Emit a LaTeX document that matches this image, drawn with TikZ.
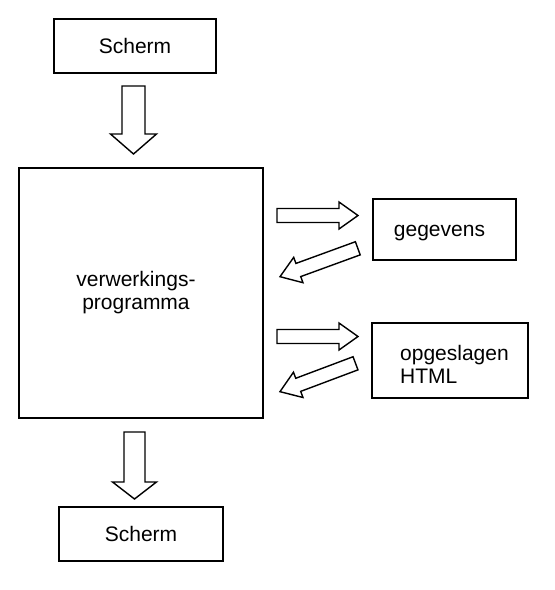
\documentclass[tikz,border=0pt]{standalone}
\usepackage{fontspec}
\setmainfont{Liberation Sans}
\newcommand\blockarr[6]{% tail point, canvas angle, length, half shaft, half head, head length
  \begin{scope}[shift={(#1)}, rotate=#2]
    \draw[arrowline] (0,-#4) -- ({#3-#6},-#4) -- ({#3-#6},-#5) -- (#3,0)
      -- ({#3-#6},#5) -- ({#3-#6},#4) -- (0,#4) -- cycle;
  \end{scope}}
\begin{document}
\begin{tikzpicture}[x=1pt,y=-1pt,
  box/.style={draw, line width=2pt, inner sep=0pt, rectangle},
  txt/.style={inner sep=0pt, font=\fontsize{21}{23}\selectfont},
  arrowline/.style={draw, line width=1.4pt, line join=miter, fill=white}]
\useasboundingbox[fill=white] (0,0) rectangle (555,590);

\node[box, txt, minimum width=162pt, minimum height=54pt] (top) at (135,46) {Scherm};
\node[box, minimum width=244pt, minimum height=250pt] (main) at (141,293) {};
\node[txt, align=center] (maintext) at (136,293) {verwerkings-\\programma};
\node[box, minimum width=143pt, minimum height=61pt] (geg) at (444.5,229.5) {};
\node[txt, anchor=base] (gegtext) at (439.5,236) {gegevens};
\node[box, minimum width=156pt, minimum height=75pt] (opg) at (450,360.5) {};
\node[txt, align=left, anchor=west] (opgtext) at (400,364.4) {opgeslagen\\HTML};
\node[box, txt, minimum width=164pt, minimum height=54pt] (bottom) at (141,534) {Scherm};

% block arrows
\blockarr{133.5,86}{-90}{68}{11.5}{23}{20}
\blockarr{134.5,432}{-90}{67}{10.5}{22}{17}
\blockarr{277,215.5}{0}{81}{7}{13.5}{19}
\blockarr{277,336.5}{0}{81}{7}{13.5}{19}
\blockarr{357.8,248.3}{200.05}{82.8}{7}{13.5}{19.5}
\blockarr{355.5,363.3}{200.6}{80.7}{7}{13.5}{19.5}
\end{tikzpicture}
\end{document}
